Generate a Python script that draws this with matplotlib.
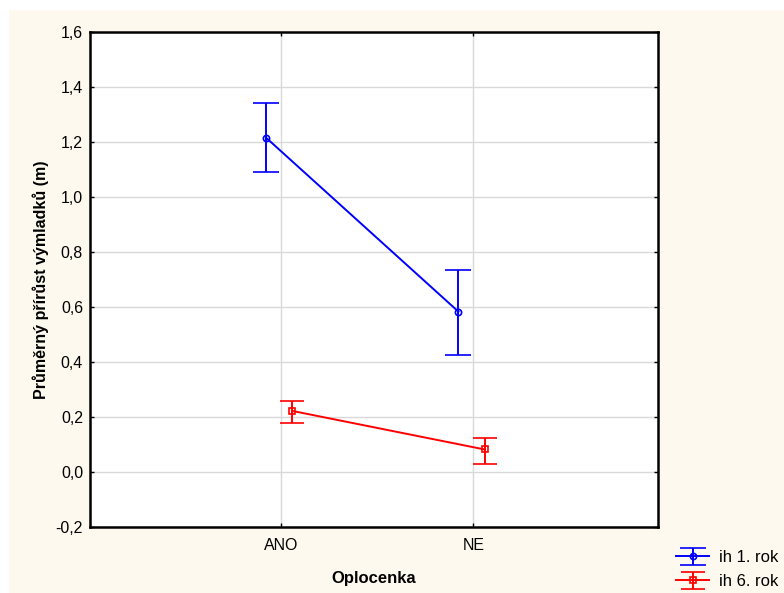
import matplotlib
matplotlib.use("Agg")
import matplotlib.pyplot as plt
from matplotlib.patches import Rectangle
import numpy as np

categories = ["ANO", "NE"]
series_names = ["ih 1. rok", "ih 6. rok"]
mean_1 = [1.215, 0.583]
upper_1 = [1.342, 0.733]
lower_1 = [1.090, 0.425]
mean_6 = [0.222, 0.082]
upper_6 = [0.257, 0.125]
lower_6 = [0.178, 0.028]
yticks = [-0.2, 0.0, 0.2, 0.4, 0.6, 0.8, 1.0, 1.2, 1.4, 1.6]

plt.rcParams['font.family'] = ['Liberation Sans', 'DejaVu Sans']

fig = plt.figure(figsize=(7.84, 5.93), dpi=100, facecolor='white')
fig.patches.append(Rectangle((9/784, 0), 1, 1 - 10/593, transform=fig.transFigure,
                             facecolor='#fdf9ee', edgecolor='none', zorder=-10))
ax = fig.add_axes([90/784, 1 - 527/593, (658-90)/784, (527-32)/593])
ax.set_zorder(5)
ax.set_facecolor('white')

x = np.arange(1, len(categories) + 1)
off1, off6 = -0.078, 0.058

m1 = np.array(mean_1); m6 = np.array(mean_6)
err1 = [m1 - np.array(lower_1), np.array(upper_1) - m1]
err6 = [m6 - np.array(lower_6), np.array(upper_6) - m6]

ax.errorbar(x + off1, m1, yerr=err1, color='#0000ff', marker='o', markersize=4.5,
            markerfacecolor='none', markeredgewidth=1.2, lw=1.4, capsize=9.5,
            elinewidth=1.4, capthick=1.4, label=series_names[0], zorder=3)
ax.errorbar(x + off6, m6, yerr=err6, color='#ff0000', marker='s', markersize=4.5,
            markerfacecolor='none', markeredgewidth=1.2, lw=1.4, capsize=8.5,
            elinewidth=1.4, capthick=1.4, label=series_names[1], zorder=3)

ax.set_xlim(0.005, 2.96)
ax.set_ylim(-0.2, 1.6)
ax.set_xticks(x)
ax.set_xticklabels(categories)
ax.set_yticks(yticks)
ax.set_yticklabels([f"{v:.1f}".replace('.', ',') for v in yticks])
ax.grid(True, color='#d9d9d9', lw=1)
ax.set_axisbelow(True)
ax.tick_params(axis='y', direction='in', length=3, width=1, labelsize=11.5, right=True, pad=5)
ax.tick_params(axis='x', direction='in', length=3, width=1, labelsize=11.5, top=True, pad=8)
for s in ax.spines.values():
    s.set_linewidth(1.8)
    s.set_color('black')

ax.set_xlabel("Oplocenka", fontweight='bold', fontsize=12, labelpad=13)
ax.set_ylabel("Průměrný přírůst výmladků (m)", fontweight='bold', fontsize=11.5, labelpad=5)

leg = fig.legend(loc='upper left', bbox_to_anchor=(676/784, 1 - 550/593), frameon=False,
           fontsize=12, handlelength=2.0, handletextpad=0.6, labelspacing=0.55,
           borderaxespad=0, borderpad=0)

fig.savefig("out.png", dpi=100, facecolor=fig.get_facecolor())
